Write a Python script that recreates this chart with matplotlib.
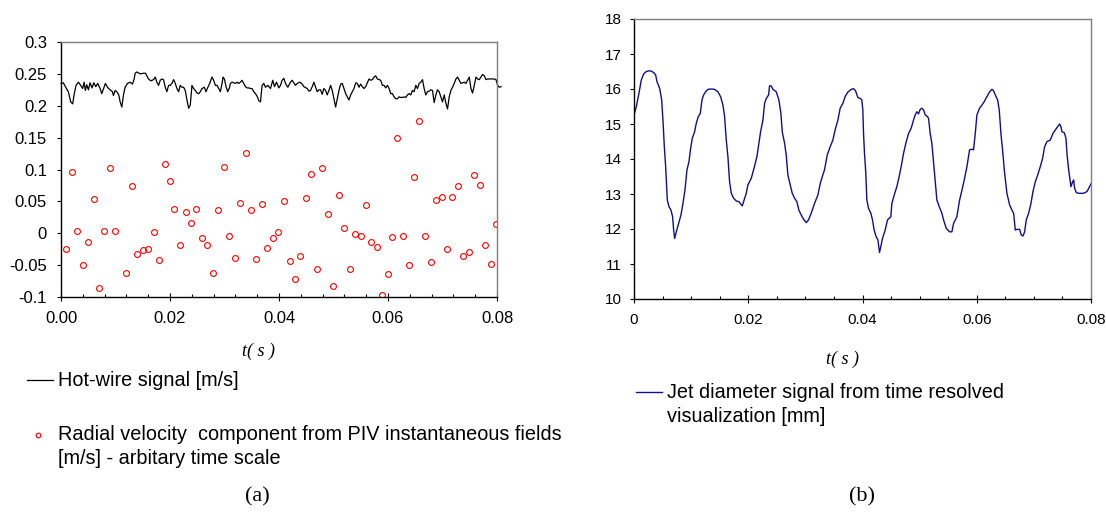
import numpy as np
import matplotlib
matplotlib.use("Agg")
import matplotlib.pyplot as plt
from matplotlib.lines import Line2D
from matplotlib.ticker import MultipleLocator

plt.rcParams['font.family'] = ['Liberation Sans', 'DejaVu Sans']

# (a) hot-wire signal, time in ms
hw_t_ms = [0.00, 0.43, 0.86, 1.35, 1.78, 2.15, 2.39, 2.76, 3.19, 3.62, 3.98, 4.23, 4.47, 4.72, 5.03,
           5.33, 5.70, 6.01, 6.38, 6.74, 7.17, 7.48, 7.85, 8.15, 8.52, 9.01, 9.44, 9.62, 9.93, 10.24,
           10.60, 10.85, 11.16, 11.46, 11.77, 12.20, 12.69, 13.12, 13.42, 13.61, 13.92, 14.53, 15.14,
           15.51, 15.75, 16.06, 16.49, 16.98, 17.29, 17.59, 17.90, 18.21, 18.51, 18.82, 19.13, 19.43,
           19.74, 20.05, 20.35, 20.66, 20.97, 21.27, 21.58, 21.88, 22.19, 22.50, 22.80, 23.11, 23.42,
           23.72, 24.03, 24.34, 24.64, 24.95, 25.26, 25.56, 25.87, 26.30, 26.60, 26.85, 27.28, 27.71,
           28.01, 28.32, 28.63, 28.93, 29.24, 29.55, 29.73, 29.98, 30.28, 30.59, 30.90, 31.08, 31.39,
           31.69, 32.00, 32.31, 32.61, 32.92, 33.22, 33.53, 33.84, 34.14, 34.45, 34.76, 35.06, 35.37,
           35.68, 35.98, 36.29, 36.60, 36.90, 37.21, 37.52, 37.94, 38.44, 38.86, 39.17, 39.54, 39.97,
           40.27, 40.58, 40.89, 41.19, 41.62, 42.11, 42.42, 42.73, 43.03, 43.34, 43.83, 44.26, 44.56,
           45.18, 45.48, 45.79, 46.10, 46.40, 46.71, 47.02, 47.32, 47.63, 47.93, 48.24, 48.55, 48.85,
           49.16, 49.47, 49.77, 50.08, 50.39, 50.69, 51.00, 51.31, 51.61, 51.92, 52.23, 52.53, 52.84,
           53.15, 53.45, 53.76, 54.07, 54.37, 54.68, 54.98, 55.29, 55.60, 55.90, 56.21, 56.52, 56.82,
           57.13, 57.44, 57.74, 58.05, 58.36, 58.66, 58.97, 59.28, 59.58, 59.89, 60.20, 60.50, 60.81,
           61.11, 61.42, 61.73, 62.03, 62.34, 62.65, 62.95, 63.26, 63.57, 63.87, 64.18, 64.49, 64.79,
           65.10, 65.41, 65.71, 66.02, 66.33, 66.63, 66.94, 67.24, 67.55, 67.86, 68.16, 68.47, 68.78,
           69.08, 69.39, 69.70, 70.00, 70.31, 70.62, 70.92, 71.23, 71.54, 71.84, 72.15, 72.46, 72.76,
           73.07, 73.38, 73.68, 73.99, 74.30, 74.60, 74.91, 75.22, 75.52, 75.83, 76.14, 76.44, 76.75,
           77.06, 77.36, 77.67, 77.98, 78.28, 78.90, 79.51, 79.82, 80.12, 80.43, 80.74]
hw_v = [.235, .236, .229, .222, .206, .203, .217, .232, .237, .232, .227, .237, .224, .233, .225,
        .236, .228, .236, .230, .235, .227, .219, .228, .235, .229, .225, .222, .216, .224, .222,
        .217, .206, .198, .217, .229, .235, .237, .234, .242, .251, .253, .250, .251,
        .251, .247, .242, .239, .241, .245, .237, .232, .240, .242, .241, .229, .222,
        .232, .232, .235, .241, .235, .227, .222, .232, .229, .229, .224, .209, .196,
        .201, .232, .227, .224, .220, .219, .222, .227, .229, .222, .227, .235, .245,
        .240, .232, .232, .227, .222, .235, .245, .242, .230, .222, .228, .235, .237,
        .236, .235, .237, .235, .237, .240, .235, .230, .228, .228, .227, .227, .222,
        .219, .215, .208, .206, .232, .235, .229, .232, .227, .240, .230, .237, .228,
        .232, .240, .243, .235, .229, .237, .240, .236, .232, .235, .237, .234, .230,
        .227, .223, .224, .230, .237, .229, .222, .225, .225, .218, .227, .224, .217,
        .224, .232, .224, .211, .198, .211, .224, .234, .235, .227, .219, .214, .209,
        .217, .222, .227, .236, .235, .229, .234, .230, .227, .230, .236, .242, .240,
        .241, .245, .247, .242, .241, .240, .232, .232, .228, .232, .227, .219, .219,
        .214, .211, .211, .214, .213, .213, .214, .213, .217, .219, .217, .224, .222,
        .232, .227, .235, .237, .241, .227, .217, .222, .223, .225, .224, .205, .217,
        .225, .222, .214, .206, .217, .204, .195, .214, .224, .229, .235, .242, .245,
        .240, .235, .236, .237, .235, .240, .245, .227, .220, .232, .245, .242, .241,
        .245, .249, .247, .241, .242, .242, .242, .241, .232, .229, .230]

# (a) PIV radial velocity, arbitrary time scale (ms)
piv_t_ms = [0.98, 1.96, 3.00, 3.98, 4.97, 6.01, 6.99, 7.97, 9.01, 9.99, 12.01, 13.00, 13.98, 15.02,
            16.00, 16.98, 18.02, 19.00, 20.05, 20.78, 21.82, 22.86, 23.85, 24.83, 25.87, 26.85,
            27.83, 28.87, 29.85, 30.90, 31.94, 32.86, 33.90, 34.88, 35.86, 36.84, 37.88, 38.86,
            39.85, 40.89, 41.93, 42.91, 43.89, 44.93, 45.91, 46.96, 47.94, 48.92, 49.96, 50.94,
            51.98, 52.96, 53.95, 54.99, 55.97, 56.95, 57.99, 58.97, 59.95, 60.75, 61.73, 62.77,
            63.81, 64.79, 65.77, 66.82, 67.80, 68.78, 69.82, 70.80, 71.78, 72.82, 73.80, 74.84,
            75.82, 76.80, 77.84, 78.82, 79.80]
piv_v = [-0.0245, 0.0966, 0.0042, -0.0501, -0.0141, 0.0538, -0.0856, 0.0042, 0.1018, 0.0042,
         -0.0616, 0.0746, -0.0329, -0.0261, -0.0245, 0.0026, -0.0412, 0.1086, 0.0814, 0.0386,
         -0.0188, 0.0334, 0.0162, 0.0386, -0.0073, -0.0177, -0.0616, 0.0371, 0.1034, -0.0042,
         -0.0381, 0.0470, 0.1253, 0.0371, -0.0397, 0.0454, -0.0230, -0.0073, 0.0026, 0.0506,
         -0.0428, -0.0720, -0.0360, 0.0559, 0.0929, -0.0564, 0.1018, 0.0303, -0.0835, 0.0606,
         0.0078, -0.0564, -0.0005, -0.0037, 0.0438, -0.0141, -0.0209, -0.0976, -0.0637, -0.0057,
         0.1493, -0.0037, -0.0501, 0.0882, 0.1764, -0.0037, -0.0449, 0.0522, 0.0574, -0.0245,
         0.0574, 0.0741, -0.0360, -0.0292, 0.0914, 0.0762, -0.0177, -0.0480, 0.0146]

# (b) jet diameter signal (ms, mm)
jet_t_ms = [0.00, 0.41, 0.87, 1.28, 1.69, 2.16, 2.62, 3.03, 3.44, 3.79, 4.02, 4.49, 4.84, 5.07, 5.31,
            5.54, 5.83, 6.12, 6.47, 6.76, 6.94, 7.11, 7.41, 7.81, 8.22, 8.57, 8.92, 9.27, 9.62, 9.91,
            10.20, 10.61, 10.90, 11.25, 11.60, 11.90, 12.19, 12.54, 12.94, 13.53, 14.11, 14.69,
            15.16, 15.57, 15.86, 16.15, 16.44, 16.73, 17.03, 17.43, 17.90, 18.37, 18.72, 18.95,
            19.18, 19.65, 19.94, 20.53, 21.00, 21.52, 21.87, 22.16, 22.57, 22.86, 23.15, 23.56,
            23.73, 24.02, 24.32, 24.90, 25.36, 25.72, 25.95, 26.36, 26.65, 26.94, 27.35, 27.70,
            28.11, 28.51, 28.86, 29.27, 29.68, 30.15, 30.55, 31.02, 31.60, 32.19, 32.60, 32.95,
            33.35, 33.82, 34.34, 34.81, 35.28, 35.69, 36.09, 36.56, 37.03, 37.49, 38.02, 38.43,
            38.78, 39.18, 39.59, 39.88, 40.06, 40.18, 40.35, 40.58, 40.76, 41.05, 41.46, 41.75,
            42.04, 42.39, 42.69, 42.98, 43.21, 43.50, 43.97, 44.38, 44.96, 45.14, 45.55, 46.01,
            46.42, 46.77, 47.18, 47.59, 48.06, 48.52, 48.93, 49.22, 49.52, 49.81, 50.10, 50.39,
            50.69, 50.98, 51.39, 51.56, 51.85, 52.14, 52.55, 53.02, 53.43, 53.90, 54.19, 54.66,
            55.24, 55.65, 55.94, 56.52, 57.00, 57.41, 57.81, 58.28, 58.74, 59.15, 59.44, 59.74,
            60.03, 60.49, 60.90, 61.31, 61.78, 62.25, 62.66, 62.95, 63.24, 63.65, 63.94, 64.23,
            64.52, 64.82, 65.28, 65.75, 66.16, 66.45, 66.75, 67.04, 67.50, 67.79, 68.09, 68.38,
            68.67, 69.08, 69.49, 69.84, 70.25, 70.66, 71.12, 71.53, 71.88, 72.29, 72.87, 73.34,
            73.75, 74.16, 74.51, 74.74, 74.92, 75.33, 75.62, 75.79, 76.09, 76.49, 76.79, 76.96,
            77.14, 77.43, 77.84, 78.71, 79.30, 80.00]
jet_d = [15.26, 15.50, 15.88, 16.26, 16.43, 16.50, 16.52, 16.51, 16.47, 16.40, 16.21, 16.02, 15.69,
         15.11, 14.35, 13.78, 12.83, 12.64, 12.54, 12.35, 11.97, 11.73, 11.92, 12.16, 12.40, 12.73,
         13.11, 13.69, 13.92, 14.30, 14.59, 14.78, 15.02, 15.21, 15.30, 15.69, 15.83, 15.92, 15.99,
         16.00, 15.99, 15.92, 15.78, 15.54, 15.21, 14.54, 14.07, 13.35, 13.02, 12.88, 12.80, 12.78,
         12.71, 12.66, 12.78, 13.02, 13.26, 13.45, 13.73, 14.07, 14.45, 14.78, 15.11, 15.59, 15.73,
         15.83, 16.09, 16.09, 15.99, 15.92, 15.69, 15.30, 14.78, 14.45, 14.11, 13.54, 13.26, 13.02,
         12.88, 12.78, 12.54, 12.40, 12.28, 12.18, 12.26, 12.45, 12.73, 12.97, 13.30, 13.49, 13.69,
         14.11, 14.35, 14.54, 14.88, 15.11, 15.45, 15.59, 15.81, 15.92, 15.99, 16.01, 15.95, 15.76,
         15.73, 15.69, 15.40, 14.73, 14.16, 13.59, 12.83, 12.59, 12.45, 12.26, 11.97, 11.78, 11.69,
         11.33, 11.50, 11.73, 11.97, 12.26, 12.35, 12.73, 12.97, 13.21, 13.50, 13.78, 14.16, 14.45,
         14.73, 14.88, 15.11, 15.26, 15.35, 15.29, 15.42, 15.45, 15.40, 15.26, 15.21, 15.16, 14.73,
         14.45, 13.69, 12.83, 12.64, 12.45, 12.26, 12.02, 11.92, 11.92, 12.16, 12.35, 12.83, 13.11,
         13.40, 13.78, 14.26, 14.28, 14.26, 14.73, 15.26, 15.45, 15.54, 15.64, 15.78, 15.92, 15.99,
         15.95, 15.83, 15.69, 15.40, 14.73, 14.26, 13.69, 13.02, 12.69, 12.54, 12.45, 11.97, 11.99,
         11.99, 11.83, 11.80, 11.92, 12.26, 12.45, 12.73, 13.07, 13.35, 13.54, 13.78, 14.02, 14.35,
         14.50, 14.54, 14.73, 14.83, 14.92, 15.00, 14.92, 14.78, 14.75, 14.59, 14.16, 13.69, 13.21,
         13.35, 13.40, 13.16, 13.04, 13.02, 13.02, 13.07, 13.29]

a_xticks = [0.0, 0.02, 0.04, 0.06, 0.08]
a_xticklabels = ['0.00', '0.02', '0.04', '0.06', '0.08']
a_yticks = [-0.1, -0.05, 0.0, 0.05, 0.1, 0.15, 0.2, 0.25, 0.3]
a_yticklabels = ['-0.1', '-0.05', '0', '0.05', '0.1', '0.15', '0.2', '0.25', '0.3']
b_xticks = [0.0, 0.02, 0.04, 0.06, 0.08]
b_xticklabels = ['0', '0.02', '0.04', '0.06', '0.08']
b_yticks = [10, 11, 12, 13, 14, 15, 16, 17, 18]

hw_label = 'Hot-wire signal [m/s]'
piv_label = ['Radial velocity  component from PIV instantaneous fields', '[m/s] - arbitary time scale']
jet_label = ['Jet diameter signal from time resolved', 'visualization [mm]']

W, H = 1106, 516
fig = plt.figure(figsize=(W / 100, H / 100), dpi=100)


def fx(px):
    return px / W


def fy(py):
    return 1 - py / H


def style_axes(ax, fs, ypad):
    for side in ['top', 'right']:
        ax.spines[side].set_color('#7f7f7f')
    for side in ['left', 'bottom']:
        ax.spines[side].set_color('black')
    for sp in ax.spines.values():
        sp.set_linewidth(1.0)
    ax.tick_params(which='both', top=False, right=False, labelsize=fs, width=0.8)
    ax.tick_params(axis='x', which='major', direction='inout', length=6, pad=7)
    ax.tick_params(axis='x', which='minor', direction='in', length=2.2)
    ax.tick_params(axis='y', which='major', direction='out', length=3, pad=ypad)


# panel (a)
ax1 = fig.add_axes([fx(61), fy(297), fx(497 - 61), (297 - 42) / H])
ax1.plot(np.array(hw_t_ms) / 1000, hw_v, color='black', lw=0.9, clip_on=False)
ax1.plot(np.array(piv_t_ms) / 1000, piv_v, ls='none', marker='o', ms=4.2, mfc='none',
         mec='#ff0000', mew=0.8)
ax1.set_xlim(0, 0.08)
ax1.set_ylim(-0.1, 0.3)
ax1.set_xticks(a_xticks)
ax1.set_xticklabels(a_xticklabels)
ax1.xaxis.set_minor_locator(MultipleLocator(0.004))
ax1.set_yticks(a_yticks)
ax1.set_yticklabels(a_yticklabels)
style_axes(ax1, 12, 7)

# panel (b)
ax2 = fig.add_axes([fx(634), fy(299), fx(1091 - 634), (299 - 19) / H])
ax2.plot(np.array(jet_t_ms) / 1000, jet_d, color='#101088', lw=1.0)
ax2.set_xlim(0, 0.08)
ax2.set_ylim(10, 18)
ax2.set_xticks(b_xticks)
ax2.set_xticklabels(b_xticklabels)
ax2.xaxis.set_minor_locator(MultipleLocator(0.005))
ax2.set_yticks(b_yticks)
style_axes(ax2, 11, 6)

# axis labels
fig.text(fx(258), fy(351), 't( s )', family='Liberation Serif', style='italic', fontsize=13,
         ha='center', va='center')
fig.text(fx(843), fy(359), 't( s )', family='Liberation Serif', style='italic', fontsize=13,
         ha='center', va='center')

# legend (a)
LFS = 14.3
fig.add_artist(Line2D([fx(27), fx(53)], [fy(380), fy(380)], color='black', lw=0.9))
fig.text(fx(58), fy(380), hw_label, fontsize=LFS, va='center')
fig.add_artist(Line2D([fx(38)], [fy(435)], ls='none', marker='o', ms=3.4, mfc='none',
                      mec='#ff0000', mew=0.8))
fig.text(fx(58), fy(435), piv_label[0], fontsize=LFS, va='center')
fig.text(fx(58), fy(459), piv_label[1], fontsize=LFS, va='center')

# legend (b)
fig.add_artist(Line2D([fx(636), fx(662)], [fy(392), fy(392)], color='#101088', lw=1.0))
fig.text(fx(667), fy(392), jet_label[0], fontsize=LFS, va='center')
fig.text(fx(667), fy(416), jet_label[1], fontsize=LFS, va='center')

# panel captions
fig.text(fx(257), fy(497), '(a)', family='Liberation Serif', fontsize=16, ha='center', va='center')
fig.text(fx(862), fy(497), '(b)', family='Liberation Serif', fontsize=16, ha='center', va='center')

fig.savefig('out.png', dpi=100)
